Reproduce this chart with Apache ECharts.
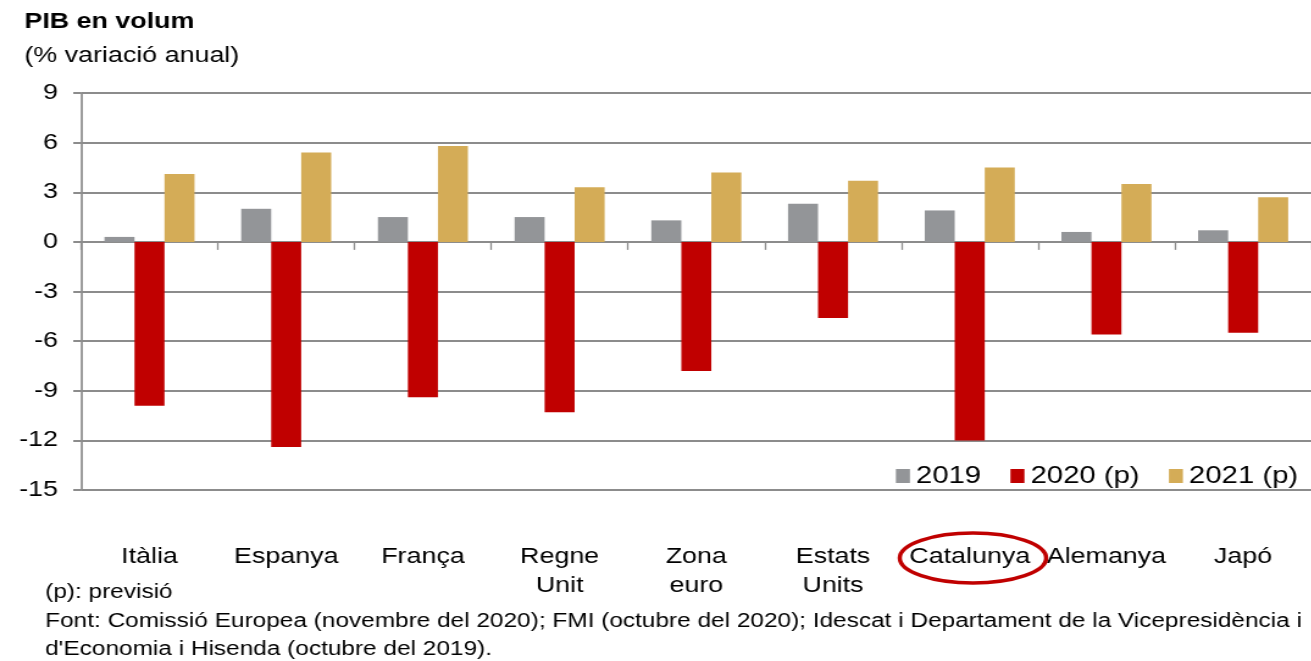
<!DOCTYPE html>
<html>
<head>
<meta charset="utf-8">
<title>PIB en volum</title>
<script src="https://cdn.jsdelivr.net/npm/echarts@6/dist/echarts.min.js"></script>
<style>
html,body{margin:0;padding:0;background:#fff;overflow:hidden;}
#wrap{width:1311px;height:661px;overflow:hidden;}
/* la imatge original esta estirada en horitzontal */
#chartmain{width:1075px;height:661px;transform:scaleX(1.22);transform-origin:0 0;}
</style>
</head>
<body>
<div id="wrap"><div id="chartmain"></div></div>
<script>
// dades
var categories = ['Itàlia','Espanya','França','Regne\nUnit','Zona\neuro','Estats\nUnits','Catalunya','Alemanya','Japó'];
var seriesNames = ['2019','2020 (p)','2021 (p)'];
var data2019 = [0.3, 2.0, 1.5, 1.5, 1.3, 2.3, 1.9, 0.6, 0.7];
var data2020 = [-9.9, -12.4, -9.4, -10.3, -7.8, -4.6, -12.0, -5.6, -5.5];
var data2021 = [4.1, 5.4, 5.8, 3.3, 4.2, 3.7, 4.5, 3.5, 2.7];
var yTicks = [-15, -12, -9, -6, -3, 0, 3, 6, 9];

var font = 'Liberation Sans, Arial, sans-serif';
var gridColor = '#8c8c8c';

var option = {
    animation: false,
    textStyle: { fontFamily: font, color: '#000' },
    title: {
        text: 'PIB en volum',
        subtext: '(% variació anual)',
        left: 15,
        top: 6,
        itemGap: 12,
        textStyle: { fontFamily: font, fontSize: 22, fontWeight: 'bold', color: '#000' },
        subtextStyle: { fontFamily: font, fontSize: 22, color: '#000' }
    },
    legend: {
        data: seriesNames,
        right: 6,
        top: 459,
        icon: 'rect',
        itemWidth: 11.5,
        itemHeight: 14,
        itemGap: 24,
        textStyle: { fontFamily: font, fontSize: 24, color: '#000', padding: [0, 0, 0, 0] }
    },
    grid: { left: 66.5, right: 0, top: 93, bottom: 171 },
    xAxis: [{
        type: 'category',
        data: categories,
        axisLine: { onZero: true, lineStyle: { color: gridColor, width: 2 } },
        axisTick: { show: true, length: 8, lineStyle: { color: gridColor, width: 1.3 } },
        axisLabel: { show: false },
        splitLine: { show: false }
    }, {
        type: 'category',
        data: categories,
        position: 'bottom',
        axisLine: { show: false, onZero: false },
        axisTick: { show: false },
        axisLabel: { margin: 52, fontFamily: font, fontSize: 22, color: '#000', lineHeight: 29, interval: 0 }
    }],
    yAxis: {
        type: 'value',
        min: yTicks[0],
        max: yTicks[yTicks.length - 1],
        interval: 3,
        axisLine: { show: true, lineStyle: { color: gridColor, width: 1.7 } },
        axisTick: { show: true, length: 6.5, lineStyle: { color: gridColor, width: 2 } },
        axisLabel: { fontFamily: font, fontSize: 22, color: '#000', margin: 19 },
        splitLine: { show: true, lineStyle: { color: gridColor, width: 2 } }
    },
    series: [{
        name: seriesNames[0],
        type: 'bar',
        barWidth: 24.6,
        barGap: '0%',
        itemStyle: { color: '#939598' },
        data: data2019
    }, {
        name: seriesNames[1],
        type: 'bar',
        barWidth: 24.6,
        barGap: '0%',
        itemStyle: { color: '#c00000' },
        data: data2020
    }, {
        name: seriesNames[2],
        type: 'bar',
        barWidth: 24.6,
        barGap: '0%',
        itemStyle: { color: '#d4ac57' },
        data: data2021
    }],
    graphic: [{
        type: 'ellipse',
        shape: { cx: 797.5, cy: 558, rx: 60, ry: 25 },
        style: { fill: 'none', stroke: '#c00000', lineWidth: 3.5 },
        z: 10
    }, {
        type: 'text',
        left: 37, top: 582,
        style: { text: '(p): previsió', font: '20px ' + font, fill: '#000' }
    }, {
        type: 'text',
        left: 37, top: 611,
        style: { text: 'Font: Comissió Europea (novembre del 2020); FMI (octubre del 2020); Idescat i Departament de la Vicepresidència i', font: '20px ' + font, fill: '#000' }
    }, {
        type: 'text',
        left: 37, top: 639,
        style: { text: "d'Economia i Hisenda (octubre del 2019).", font: '20px ' + font, fill: '#000' }
    }]
};

var myChart = echarts.init(document.getElementById('chartmain'));
myChart.setOption(option);
</script>
</body>
</html>
